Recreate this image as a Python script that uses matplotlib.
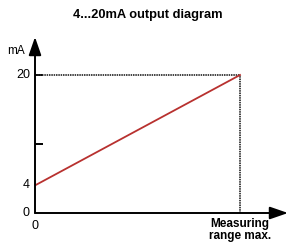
import matplotlib
matplotlib.use("Agg")
import matplotlib.pyplot as plt

plt.rcParams['font.family'] = ['Liberation Sans', 'DejaVu Sans']

## data
x_signal = [0, 1]          # 0 .. measuring range max
y_signal = [4, 20]         # mA
y_tick_vals = [0, 4, 20]
y_tick_labels = ['0', '4', '20']
y_tick_marks = [10, 20]
x_max_label = 'Measuring\nrange max.'
title = '4...20mA output diagram'

## plot
W, H = 290, 247
fig = plt.figure(figsize=(W / 100, H / 100), dpi=100)

# axes: origin at px (35, 213), x=1 at px 240, y=20 at px 75
left, bottom = 35 / W, (H - 213) / H
ax = fig.add_axes([left, bottom, (288 - 35) / W, (213 - 37) / H])
ax.set_xlim(0, (288 - 35) / (240 - 35))
ax.set_ylim(0, (213 - 37) / ((213 - 75) / 20))
for s in ax.spines.values():
    s.set_visible(False)
ax.set_xticks([])
ax.set_yticks([])

# axis arrows
arrow = dict(arrowstyle='-|>,head_length=1.1,head_width=0.38', lw=1.4,
             color='black', shrinkA=0, shrinkB=0)
ax.annotate('', xy=(1, 0), xytext=(0, 0), xycoords='axes fraction',
            arrowprops=arrow, annotation_clip=False)
ax.annotate('', xy=(0, 1), xytext=(0, 0), xycoords='axes fraction',
            arrowprops=arrow, annotation_clip=False)

# tick marks (inside)
ax.hlines(y_tick_marks, 0, 0.04, color='black', lw=1.4)

# dotted guides
dot = dict(color='#222222', ls=(0, (0.9, 0.5)), lw=1.2)
ax.plot([0, x_signal[-1]], [y_signal[-1], y_signal[-1]], **dot)
ax.plot([x_signal[-1], x_signal[-1]], [0, y_signal[-1]], **dot)

# signal line
ax.plot(x_signal, y_signal, color='#b8312f', lw=1.3)

# labels
for v, lab in zip(y_tick_vals, y_tick_labels):
    ax.text(-0.025, v, lab, ha='right', va='center', fontsize=9)
ax.text(-0.05, 23.5, 'mA', ha='right', va='center', fontsize=8.5)
ax.text(0, -1.0, '0', ha='center', va='top', fontsize=9)
ax.text(x_signal[-1], -0.7, x_max_label, ha='center', va='top', fontsize=8.5,
        fontweight='bold', linespacing=1.0)

fig.text(0.508, 1 - 15 / H, title, ha='center', va='center',
         fontsize=9.3, fontweight='bold')

plt.savefig('out.png', dpi=100)
plt.close(fig)
